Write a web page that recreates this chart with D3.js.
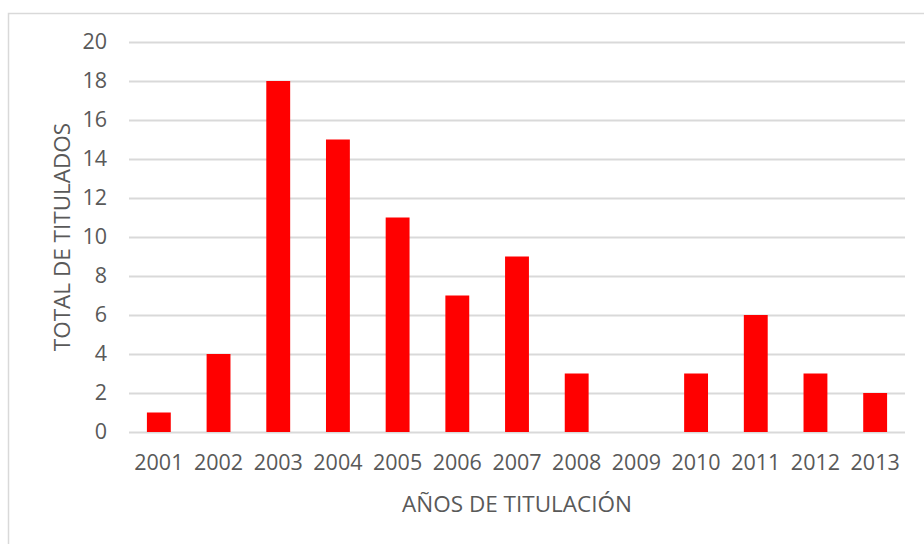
<!DOCTYPE html>
<html>
<head>
<meta charset="utf-8">
<script src="https://cdn.jsdelivr.net/npm/d3@7"></script>
<style>
  body { margin: 0; background: #fff; }
  svg { display: block; }
  text { font-family: "Open Sans", sans-serif; fill: #595959; }
</style>
</head>
<body>
<svg id="chart"></svg>
<script>
const years = ["2001", "2002", "2003", "2004", "2005", "2006", "2007", "2008", "2009", "2010", "2011", "2012", "2013"];
const totals = [1, 4, 18, 15, 11, 7, 9, 3, 0, 3, 6, 3, 2];
const yTicks = [0, 2, 4, 6, 8, 10, 12, 14, 16, 18, 20];

const w = 924;
const h = 544;
const padL = 129, padR = 905, padT = 42, padB = 432;

const svg = d3.select("#chart").attr("width", w).attr("height", h);

// chart frame (runs off the right and bottom edges)
svg.append("rect")
  .attr("x", 8.5).attr("y", 13.5)
  .attr("width", 940).attr("height", 560)
  .attr("fill", "none")
  .attr("stroke", "#d9d9d9")
  .attr("stroke-width", 1.5);

const x = d3.scaleBand().domain(years).range([padL, padR]).paddingInner(0.6).paddingOuter(0.3);
const y = d3.scaleLinear().domain([0, 20]).range([padB, padT]);

const yAxis = d3.axisLeft(y).tickValues(yTicks).tickSize(-(padR - padL)).tickPadding(22);
const gy = svg.append("g").attr("transform", "translate(" + padL + ",0)").call(yAxis);
gy.select(".domain").remove();
gy.selectAll(".tick line").attr("stroke", "#d9d9d9").attr("stroke-width", 2);
gy.selectAll(".tick text").style("font-size", "21.5px").attr("fill", "#595959");

svg.selectAll("rect.bar")
  .data(totals)
  .enter()
  .append("rect")
  .attr("class", "bar")
  .attr("x", (d, i) => x(years[i]))
  .attr("y", d => y(d))
  .attr("width", x.bandwidth())
  .attr("height", d => y(0) - y(d))
  .attr("fill", "#ff0000");

const xAxis = d3.axisBottom(x).tickSize(0).tickPadding(23);
const gx = svg.append("g").attr("transform", "translate(0," + padB + ")").call(xAxis);
gx.select(".domain").remove();
gx.selectAll(".tick text").style("font-size", "21.5px").attr("fill", "#595959");

svg.append("text")
  .attr("x", (padL + padR) / 2)
  .attr("y", 512)
  .attr("text-anchor", "middle")
  .style("font-size", "22.5px")
  .text("AÑOS DE TITULACIÓN");

svg.append("text")
  .attr("transform", "translate(70," + (padT + padB) / 2 + ") rotate(-90)")
  .attr("text-anchor", "middle")
  .style("font-size", "22.5px")
  .text("TOTAL DE TITULADOS");
</script>
</body>
</html>
